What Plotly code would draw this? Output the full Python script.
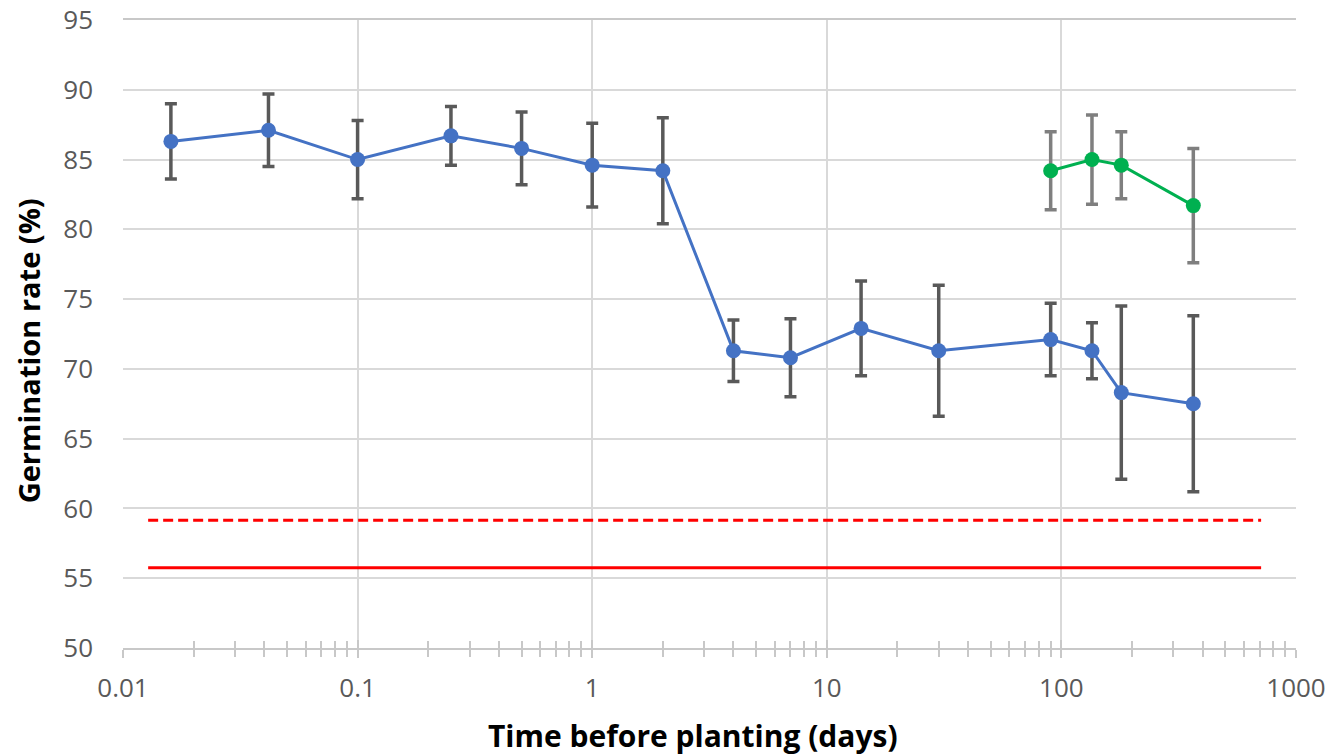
import plotly.graph_objects as go

# Data
days_blue = [0.016, 0.0417, 0.1, 0.25, 0.5, 1, 2, 4, 7, 14, 30, 90, 135, 180, 365]
rate_blue = [86.3, 87.1, 85.0, 86.7, 85.8, 84.6, 84.2, 71.3, 70.8, 72.9, 71.3, 72.1, 71.3, 68.3, 67.5]
err_blue = [2.7, 2.6, 2.8, 2.1, 2.6, 3.0, 3.8, 2.2, 2.8, 3.4, 4.7, 2.6, 2.0, 6.2, 6.3]

days_green = [90, 135, 180, 365]
rate_green = [84.2, 85.0, 84.6, 81.7]
err_green = [2.8, 3.2, 2.4, 4.1]

ref_x = [0.0128, 710]
ref_dashed = [59.15, 59.15]
ref_solid = [55.75, 55.75]

y_ticks = [50, 55, 60, 65, 70, 75, 80, 85, 90, 95]
x_ticks = [0.01, 0.1, 1, 10, 100, 1000]
x_ticklabels = ["0.01", "0.1", "1", "10", "100", "1000"]

x_title = "Time before planting (days)"
y_title = "Germination rate (%)"

fig = go.Figure()

fig.add_trace(go.Scatter(x=ref_x, y=ref_dashed, mode="lines",
                         line=dict(color="#ff0000", width=3, dash="10px,5px"),
                         showlegend=False, hoverinfo="skip"))
fig.add_trace(go.Scatter(x=ref_x, y=ref_solid, mode="lines",
                         line=dict(color="#ff0000", width=3),
                         showlegend=False, hoverinfo="skip"))

fig.add_trace(go.Scatter(x=days_blue, y=rate_blue, mode="lines+markers",
                         line=dict(color="#4472c4", width=3),
                         marker=dict(color="#4472c4", size=15),
                         error_y=dict(type="data", array=err_blue, visible=True,
                                      color="#595959", thickness=3.5, width=6),
                         showlegend=False))
fig.add_trace(go.Scatter(x=days_green, y=rate_green, mode="lines+markers",
                         line=dict(color="#00b050", width=3),
                         marker=dict(color="#00b050", size=15),
                         error_y=dict(type="data", array=err_green, visible=True,
                                      color="#7f7f7f", thickness=3.5, width=6),
                         showlegend=False))

# invisible trace on overlay axis so its inside ticks are drawn
fig.add_trace(go.Scatter(x=ref_x, y=ref_solid, xaxis="x2", mode="markers",
                         marker=dict(size=1, opacity=0), showlegend=False,
                         hoverinfo="skip"))

font_fam = "Open Sans, Noto Sans, sans-serif"
tick_col = "#c8c8c8"
fig.update_layout(
    width=1343, height=756,
    margin=dict(l=123, r=47, t=20, b=108, autoexpand=False),
    plot_bgcolor="white", paper_bgcolor="white",
    font=dict(family=font_fam, color="#595959", size=20),
    xaxis=dict(type="log", range=[-2, 3], automargin=False,
               tickvals=x_ticks, ticktext=x_ticklabels,
               showgrid=True, gridcolor="#d9d9d9", gridwidth=1.5,
               showline=True, linecolor=tick_col, linewidth=2, mirror=True,
               ticks="outside", ticklen=8, tickcolor=tick_col, tickwidth=2,
               minor=dict(ticks="outside", ticklen=7, tickcolor=tick_col, tickwidth=1.5,
                          dtick="D1", showgrid=False),
               zeroline=False, ticklabelstandoff=8, ticklabeloverflow="allow",
               tickfont=dict(size=26, color="#595959", family=font_fam)),
    xaxis2=dict(type="log", range=[-2, 3], overlaying="x", side="bottom", anchor="y",
                automargin=False,
                showgrid=False, showline=False, showticklabels=False,
                tickvals=x_ticks,
                ticks="inside", ticklen=8, tickcolor=tick_col, tickwidth=2,
                minor=dict(ticks="inside", ticklen=7, tickcolor=tick_col, tickwidth=1.5,
                           dtick="D1", showgrid=False),
                zeroline=False),
    yaxis=dict(range=[50, 95], tickvals=y_ticks, automargin=False,
               showgrid=True, gridcolor="#d9d9d9", gridwidth=1.5,
               showline=False, zeroline=False, ticks="",
               ticklabelstandoff=29, ticklabeloverflow="allow",
               tickfont=dict(size=26, color="#595959", family=font_fam)),
    annotations=[
        dict(text="<b>" + x_title + "</b>", xref="paper", yref="paper",
             x=0.486, y=-0.139, xanchor="center", yanchor="middle", showarrow=False,
             font=dict(size=30, color="#000000", family=font_fam)),
        dict(text="<b>" + y_title + "</b>", xref="paper", yref="paper",
             x=-0.081, y=0.474, xanchor="center", yanchor="middle", showarrow=False,
             textangle=-90,
             font=dict(size=29, color="#000000", family=font_fam)),
    ],
)

fig.write_html("out.html", config={"displayModeBar": False},
               post_script="document.body.style.margin='0';document.body.style.overflow='hidden';")
